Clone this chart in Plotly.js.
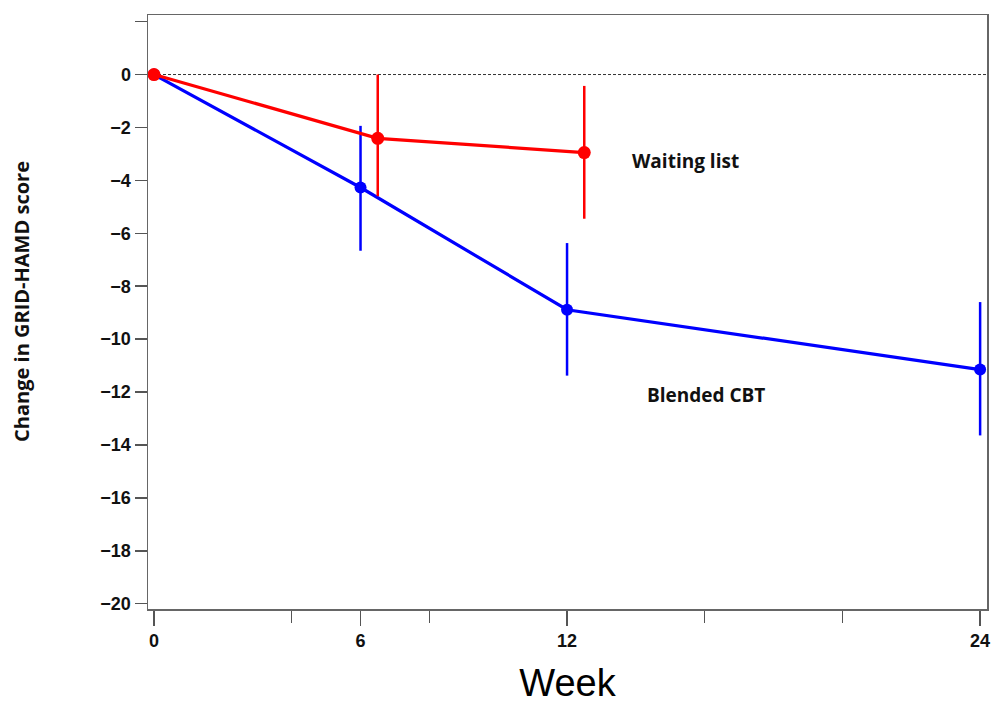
<!DOCTYPE html>
<html>
<head>
<meta charset="utf-8">
<script src="https://cdn.plot.ly/plotly-3.0.1.min.js"></script>
<style>html,body{margin:0;padding:0;background:#fff;}#chart{width:991px;height:704px;}</style>
</head>
<body>
<div id="chart"></div>
<script>
// Data
const cbtWeeks = [0, 6, 12, 24];
const cbtChange = [0, -4.27, -8.89, -11.15];
const cbtErrUp = [0, 2.33, 2.52, 2.55];
const cbtErrDown = [0, 2.39, 2.49, 2.49];

const wlWeeks = [0, 6.5, 12.5];
const wlChange = [0, -2.41, -2.95];
const wlErrUp = [0, 2.41, 2.52];
const wlErrDown = [0, 2.19, 2.5];

const xMajorTicks = [0, 6, 12, 24];
const xMinorTicks = [4, 8, 16, 20];
const yTicks = [-20, -18, -16, -14, -12, -10, -8, -6, -4, -2, 0, 2];
const yTickText = yTicks.map(v => v === 2 ? '' : '<b>' + (v < 0 ? '\u2212' + Math.abs(v) : String(v)) + '</b>');

const blue = '#0000ff';
const red = '#ff0000';

const traces = [
  {
    x: cbtWeeks, y: cbtChange, type: 'scatter', mode: 'lines+markers', name: 'Blended CBT',
    line: {color: blue, width: 3.2}, marker: {color: blue, size: 12},
    error_y: {type: 'data', symmetric: false, array: cbtErrUp, arrayminus: cbtErrDown, color: blue, thickness: 2.5, width: 0}
  },
  {
    x: wlWeeks, y: wlChange, type: 'scatter', mode: 'lines+markers', name: 'Waiting list',
    line: {color: red, width: 3.2}, marker: {color: red, size: 13},
    error_y: {type: 'data', symmetric: false, array: wlErrUp, arrayminus: wlErrDown, color: red, thickness: 2.5, width: 0}
  }
];

const tickFont = {family: 'Liberation Sans, Arial, sans-serif', size: 18, color: '#111'};
const labelFont = {family: 'Open Sans, sans-serif', size: 19, color: '#111', weight: 'bold'};

const layout = {
  width: 991, height: 704,
  margin: {l: 148, r: 4, t: 15, b: 95},
  paper_bgcolor: '#fff', plot_bgcolor: '#fff',
  showlegend: false,
  xaxis: {
    range: [-0.174, 24.2], tickmode: 'array', tickvals: xMajorTicks, ticktext: xMajorTicks.map(v => '<b>' + v + '</b>'),
    ticks: 'outside', ticklen: 15, tickwidth: 1.5, tickcolor: '#555',
    showline: true, mirror: true, linecolor: '#666', linewidth: 1.5,
    showgrid: false, zeroline: false, tickfont: tickFont,
    minor: {tickmode: 'array', tickvals: xMinorTicks, ticks: 'outside', ticklen: 12, tickwidth: 1.5, tickcolor: '#555', showgrid: false},
    title: {text: 'Week', font: {family: 'Liberation Sans, Arial, sans-serif', size: 38, color: '#000'}, standoff: 29}
  },
  yaxis: {
    range: [-20.2, 2.25], tickmode: 'array', tickvals: yTicks, ticktext: yTickText,
    ticks: 'outside', ticklen: 12, tickwidth: 1.5, tickcolor: '#555',
    showline: true, mirror: true, linecolor: '#666', linewidth: 1.5,
    showgrid: false, zeroline: false, tickfont: tickFont
  },
  shapes: [
    {type: 'line', xref: 'paper', x0: 0, x1: 1, yref: 'y', y0: 0, y1: 0, line: {color: '#333', width: 1, dash: '3px,2px'}, layer: 'below'}
  ],
  annotations: [
    {text: 'Waiting list', x: 13.83, y: -3.26, xref: 'x', yref: 'y', xanchor: 'left', yanchor: 'middle', showarrow: false, font: labelFont},
    {text: 'Blended CBT', x: 14.27, y: -12.13, xref: 'x', yref: 'y', xanchor: 'left', yanchor: 'middle', showarrow: false, font: labelFont},
    {text: 'Change in GRID-HAMD score', xref: 'paper', yref: 'paper', x: 0, y: 0.517, xshift: -126, xanchor: 'center', yanchor: 'middle', textangle: -90, showarrow: false, font: {family: 'Open Sans, sans-serif', size: 20, color: '#111', weight: 'bold'}}
  ]
};

Plotly.newPlot('chart', traces, layout, {displayModeBar: false, staticPlot: true});
</script>
</body>
</html>
